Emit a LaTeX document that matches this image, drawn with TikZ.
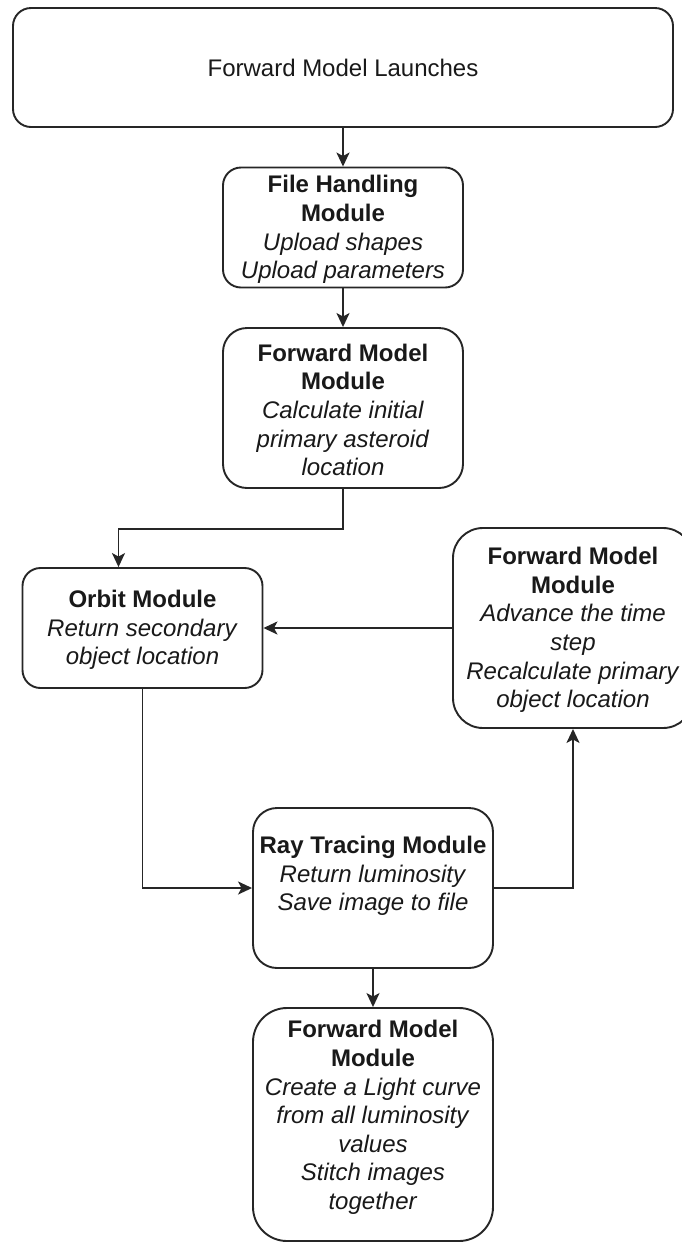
\documentclass[tikz,border=0pt]{standalone}
\usepackage{fontspec}
\setmainfont{Liberation Sans}
\usetikzlibrary{arrows.meta}
\tikzset{
  module/.style={draw=black!85, line width=1.9pt, fill=white, inner sep=0pt},
  txt/.style={align=center, inner sep=0pt, text=black!90,
    font=\fontsize{24}{28.6}\selectfont},
  flow/.style={draw=black!85, line width=1.9pt,
    -{Stealth[length=14pt, width=13pt, inset=3.5pt]}},
}
\begin{document}
\begin{tikzpicture}[x=1pt, y=-1pt]
\useasboundingbox (0,0) rectangle (681,1243);
\fill[white] (0,0) rectangle (681,1243);

% boxes (centres and sizes in pixels)
\node[module, rounded corners=18pt, minimum width=660pt, minimum height=119pt] (launch) at (343,67.5) {};
\node[module, rounded corners=18pt, minimum width=240pt, minimum height=120pt] (files) at (343,227.5) {};
\node[module, rounded corners=24pt, minimum width=240pt, minimum height=160pt] (init) at (343,408) {};
\node[module, rounded corners=18pt, minimum width=240pt, minimum height=120pt] (orbit) at (142.5,628) {};
\node[module, rounded corners=30pt, minimum width=240pt, minimum height=200pt] (step) at (573,628) {};
\node[module, rounded corners=24pt, minimum width=240pt, minimum height=160pt] (ray) at (373,888) {};
\node[module, rounded corners=34pt, minimum width=240pt, minimum height=233pt] (curve) at (373,1124.5) {};

% texts
\node[txt] (tlaunch) at (launch.center) {Forward Model Launches};
\node[txt] (tfiles) at ([yshift=-2pt]files.center) {\textbf{File Handling}\\\textbf{Module}\\\textit{Upload shapes}\\\textit{Upload parameters}};
\node[txt] (tinit) at ([yshift=-2pt]init.center) {\textbf{Forward Model}\\\textbf{Module}\\\textit{Calculate initial}\\\textit{primary asteroid}\\\textit{location}};
\node[txt] (torbit) at ([yshift=-2pt]orbit.center) {\textbf{Orbit Module}\\\textit{Return secondary}\\\textit{object location}};
\node[txt] (tstep) at ([yshift=-2pt]step.center) {\textbf{Forward Model}\\\textbf{Module}\\\textit{Advance the time}\\\textit{step}\\\textit{Recalculate primary}\\\textit{object location}};
\node[txt] (tray) at ([yshift=12pt]ray.center) {\textbf{Ray Tracing Module}\\\textit{Return luminosity}\\\textit{Save image to file}};
\node[txt] (tcurve) at ([yshift=7pt]curve.center) {\textbf{Forward Model}\\\textbf{Module}\\\textit{Create a Light curve}\\\textit{from all luminosity}\\\textit{values}\\\textit{Stitch images}\\\textit{together}};

% connectors
\coordinate (orbitin) at ([xshift=-24pt]orbit.north);
\draw[flow] (launch.south) -- (files.north);
\draw[flow] (files.south) -- (init.north);
\draw[flow] (init.south) -- ++(0,40) -| (orbitin);
\draw[flow] (step.west) -- (orbit.east);
\draw[flow] (orbit.south) |- (ray.west);
\draw[flow] (ray.east) -| (step.south);
\draw[flow] (ray.south) -- (curve.north);
\end{tikzpicture}
\end{document}
